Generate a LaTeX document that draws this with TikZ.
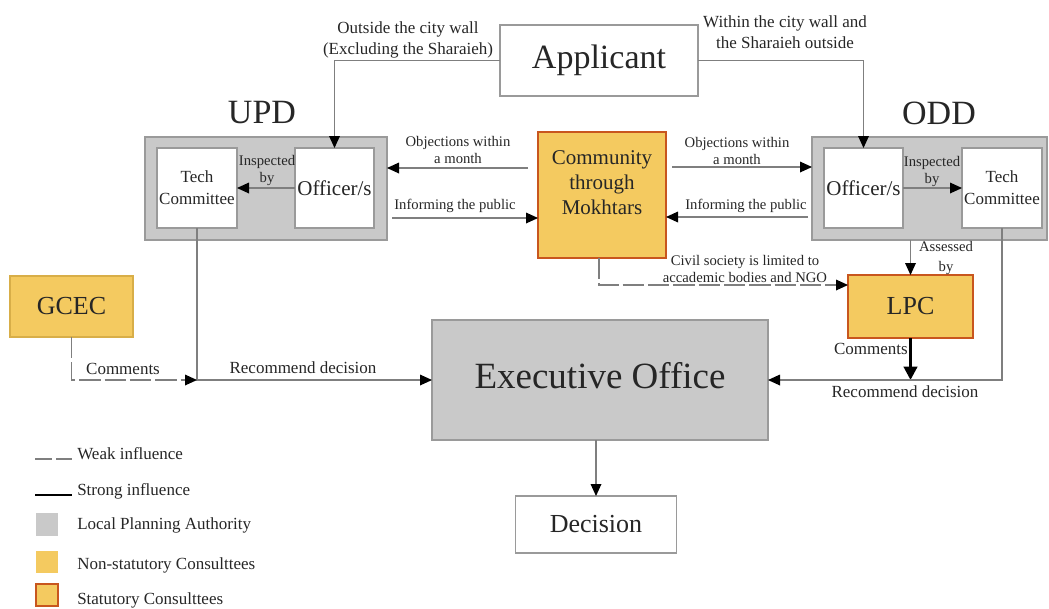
\documentclass[tikz,border=0pt]{standalone}
\usepackage{fontspec}
\setmainfont{Liberation Serif}
\usetikzlibrary{arrows.meta,calc}

\definecolor{lpagray}{HTML}{C9C9C9}
\definecolor{edgegray}{HTML}{9A9A9A}
\definecolor{linegray}{HTML}{7F7F7F}
\definecolor{consult}{HTML}{F4CA60}
\definecolor{consultedge}{HTML}{D8AE48}
\definecolor{statred}{HTML}{C8561E}
\definecolor{ink}{HTML}{262626}

% type sizes
\newcommand\fsExec{\fontsize{27.75pt}{33pt}\selectfont}
\newcommand\fsBig{\fontsize{25.5pt}{30pt}\selectfont}
\newcommand\fsLarge{\fontsize{19.5pt}{23pt}\selectfont}
\newcommand\fsMid{\fontsize{15.75pt}{18.75pt}\selectfont}
\newcommand\fsNorm{\fontsize{12.75pt}{16pt}\selectfont}
\newcommand\fsSmall{\fontsize{11pt}{12.75pt}\selectfont}

\begin{document}
\begin{tikzpicture}[x=0.75pt,y=-0.75pt,
  every node/.style={text=ink},
  wh/.style 2 args={minimum width=#1*0.75pt, minimum height=#2*0.75pt},
  box/.style={draw=edgegray, line width=0.8pt, fill=white, inner sep=0pt, outer sep=0pt, align=center},
  lpa/.style={box, fill=lpagray},
  nonstat/.style={box, fill=consult, draw=consultedge},
  stat/.style={box, fill=consult, draw=statred, line width=1.5pt},
  conn/.style={draw=linegray, line width=0.9pt},
  arr/.style={conn, -{Triangle[color=black,length=9pt,width=8pt]}},
  weak/.style={dash pattern=on 16pt off 3pt},
  strong/.style={draw=black, line width=2.2pt, -{Triangle[color=black,length=10pt,width=10pt]}},
  lbl/.style={inner sep=0pt, align=center, font=\fsSmall},
  lblN/.style={inner sep=0pt, align=center, font=\fsNorm},
]
\useasboundingbox (0,0) rectangle (1049,608);

% ---- applicant ----
\node[box, wh={198}{71}, font=\fsBig] (app) at (599,60.5) {Applicant};
\node[lblN, font=\fontsize{12.75pt}{15.75pt}\selectfont] (lout) at (408,39.5) {Outside the city wall\\(Excluding the Sharaieh)};
\node[lblN, font=\fontsize{12.75pt}{15.75pt}\selectfont] (lin) at (785,32.5) {Within the city wall and\\the Sharaieh outside};

% ---- UPD ----
\node[lpa, wh={242}{103}] (upd) at (266,188.5) {};
\node[box, wh={80}{80}, font=\fontsize{12.75pt}{16.5pt}\selectfont] (updtech) at (197,188) {Tech\\Committee};
\node[box, wh={79}{80}, font=\fsMid] (updoff) at (334.5,188) {Officer/s};
\node[inner sep=0pt, font=\fsBig] (updlbl) at (262,113) {UPD};

% ---- ODD ----
\node[lpa, wh={235}{103}] (odd) at (929.5,188.5) {};
\node[box, wh={79}{80}, font=\fsMid] (oddoff) at (863.5,188) {Officer/s};
\node[box, wh={80}{80}, font=\fontsize{12.75pt}{16.5pt}\selectfont] (oddtech) at (1002,188) {Tech\\Committee};
\node[inner sep=0pt, font=\fsBig] (oddlbl) at (939,113) {ODD};

% ---- community ----
\node[stat, wh={128}{126}] (com) at (602,195) {};
\node[inner sep=0pt, align=center, font=\fsMid] (comtxt) at (602,183) {Community\\through\\Mokhtars};

% ---- consultees ----
\node[stat, wh={125}{63}, font=\fsLarge] (lpc) at (910.5,306.5) {LPC};
\node[nonstat, wh={123}{61}, font=\fsLarge] (gcec) at (71.5,306.5) {GCEC};

% ---- executive office and decision ----
\node[lpa, wh={336}{120}] (exec) at (600,380) {};
\node[inner sep=0pt, font=\fsExec] (exectxt) at (600,376) {Executive Office};
\node[box, wh={161}{57}, font=\fsLarge] (dec) at (596,524.5) {Decision};

% ---- applicant routes ----
\draw[arr] (app.west) -| (updoff.north);
\draw[arr] (app.east) -| (oddoff.north);

% ---- inspections ----
\draw[arr] (updoff.west) -- (updtech.east);
\node[lbl] (updinsp) at (267,170.5) {Inspected\\by};
\draw[arr] (oddoff.east) -- (oddtech.west);
\node[lbl] (oddinsp) at (932,171.5) {Inspected\\by};

% ---- public consultation ----
\draw[arr] ($(com.west)+(-10,-27)$) -- ($(upd.east)+(0,-20.5)$);
\node[lbl] (objl) at (458,149.5) {Objections within\\a month};
\draw[arr] ($(upd.east)+(5,29.5)$) -- ($(com.west)+(0,23)$);
\node[lbl] (infl) at (455,206) {Informing the public};
\draw[arr] ($(com.east)+(6,-28)$) -- ($(odd.west)+(0,-21.5)$);
\node[lbl] (objr) at (737,150.5) {Objections within\\a month};
\draw[arr] ($(odd.west)+(-4,28.5)$) -- ($(com.east)+(0,22)$);
\node[lbl] (infr) at (746,206) {Informing the public};

% ---- LPC ----
\draw[arr] (odd.south -| lpc.north) -- (lpc.north);
\node[lbl, font=\fontsize{11pt}{15pt}\selectfont] (assess) at (946,258) {Assessed\\by};
\draw[arr, weak] ($(com.south)+(-3,0)$) |- ($(lpc.west)+(0,-21.5)$);
\node[lbl] (civil) at (745,269) {Civil society is limited to\\accademic bodies and NGO};
\draw[strong] (lpc.south) -- (lpc.south |- exec.east);
\node[lblN, anchor=east] (lpccom) at (908,349) {Comments};
\draw[arr] (oddtech.south) |- (exec.east);
\node[lblN] (recr) at (905,392) {Recommend decision};

% ---- left side ----
\coordinate (gj) at (updtech.south |- exec.west);
\draw[arr] (updtech.south) |- (exec.west);
\draw[arr, weak] (gcec.south) |- (gj);
\node[lblN] (gcom) at (123,369) {Comments};
\node[lblN] (recl) at (303,368) {Recommend decision};

% ---- decision ----
\draw[arr] (exec.south -| dec.north) -- (dec.north);

% ---- legend ----
\coordinate (lwa) at (35,459); \coordinate (lwb) at (72,459);
\draw[conn, dash pattern=on 13pt off 3pt] (lwa) -- (lwb);
\node[lblN, anchor=west] (lgw) at (77,454) {Weak influence};
\coordinate (lsa) at (35,495); \coordinate (lsb) at (72,495);
\draw[draw=black, line width=2.2pt] (lsa) -- (lsb);
\node[lblN, anchor=west] (lgs) at (77,491) {Strong influence};
\node[fill=lpagray, inner sep=0pt, wh={22}{23}] (sqg) at (47,524.5) {};
\node[lblN, anchor=west] (lgg) at (77,525) {Local Planning Authority};
\node[fill=consult, inner sep=0pt, wh={22}{22}] (sqy) at (47,562) {};
\node[lblN, anchor=west] (lgy) at (77,565) {Non-statutory Consulttees};
\node[stat, wh={22}{22}] (sqs) at (47,594.5) {};
\node[lblN, anchor=west] (lgt) at (77,600) {Statutory Consulttees};
\end{tikzpicture}
\end{document}
